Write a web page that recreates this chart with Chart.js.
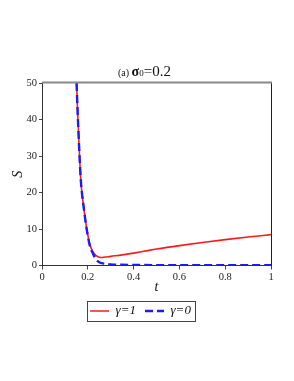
<!DOCTYPE html>
<html>
<head>
<meta charset="utf-8">
<script src="https://cdn.jsdelivr.net/npm/chart.js@4"></script>
<style>
html,body{margin:0;padding:0;background:#fff;}
#wrap{width:294px;height:381px;}
</style>
</head>
<body>
<div id="wrap"><canvas id="c" width="294" height="381"></canvas></div>
<script>
// Data
const tRed = [0.151,0.155,0.16,0.165,0.17,0.175,0.18,0.185,0.19,0.195,0.2,0.207,0.215,0.225,0.235,0.245,0.255,0.27,0.3,0.35,0.4,0.45,0.5,0.6,0.7,0.8,0.9,1.0];
const sRed = [50,43,35.5,28.5,23,19.5,17,14.5,12.2,10.2,8.4,6.3,4.7,3.5,2.8,2.4,2.2,2.25,2.5,2.9,3.4,3.95,4.5,5.45,6.3,7.1,7.8,8.45];
const tBlue = [0.151,0.155,0.16,0.165,0.17,0.175,0.18,0.185,0.19,0.195,0.2,0.207,0.215,0.223,0.23,0.24,0.25,0.26,0.28,0.3,0.35,0.4,0.5,0.6,0.8,1.0];
const sBlue = [50,43,35.5,28.5,23,19.5,17,14.5,12.1,10,8.1,5.9,4.3,3.2,2.3,1.4,0.9,0.65,0.45,0.3,0.2,0.15,0.1,0.08,0.06,0.05];
const xTicks = [0,0.2,0.4,0.6,0.8,1];
const yTicks = [0,10,20,30,40,50];
const seriesLabels = ['γ=1','γ=0'];

const pts = (xs, ys) => xs.map((x,i)=>({x:x,y:ys[i]}));

const serif = "'Liberation Serif','Times New Roman',serif";

const framePlugin = {
  id:'frame',
  afterDatasetsDraw(chart){
    const a = chart.chartArea, ctx = chart.ctx;
    ctx.save();
    ctx.lineWidth = 1;
    ctx.strokeStyle = '#222';
    ctx.beginPath();
    ctx.moveTo(a.right+0.5, a.top); ctx.lineTo(a.right+0.5, a.bottom);
    ctx.stroke();
    ctx.strokeStyle = '#888';
    ctx.lineWidth = 2;
    ctx.beginPath();
    ctx.moveTo(a.left, a.top-0.5); ctx.lineTo(a.right+1, a.top-0.5);
    ctx.stroke();
    ctx.restore();
  },
  afterDraw(chart){
    const ctx = chart.ctx, a = chart.chartArea;
    // title with mixed sizes
    ctx.save();
    ctx.fillStyle = '#111';
    ctx.textBaseline = 'alphabetic';
    let x = a.left + 76, y = a.top - 7;
    const parts = [['(a) ', '10px '+serif, 0],['σ', 'bold 14px '+serif, 0],['0', '9px '+serif, 0],['=0.2', '15px '+serif, 0]];
    for (const p of parts){ ctx.font = p[1]; ctx.fillText(p[0], x, y + p[2]); x += ctx.measureText(p[0]).width; }
    ctx.restore();
    // legend border
    const lg = chart.legend;
    if (lg && lg.legendHitBoxes && lg.legendHitBoxes.length){
      const hb = lg.legendHitBoxes;
      let l = Infinity, r = -Infinity, t = Infinity, b = -Infinity;
      hb.forEach(h=>{ l=Math.min(l,h.left); r=Math.max(r,h.left+h.width); t=Math.min(t,h.top); b=Math.max(b,h.top+h.height);});
      ctx.save();
      ctx.strokeStyle = '#444'; ctx.lineWidth = 1;
      ctx.strokeRect(Math.round(l-3)+0.5, Math.round(t-4)+0.5, Math.round(r-l+7), Math.round(b-t+7));
      ctx.restore();
    }
  }
};

new Chart(document.getElementById('c'), {
  type:'line',
  data:{
    datasets:[
      {label:seriesLabels[0], data:pts(tRed,sRed), borderColor:'#ff1a1a', borderWidth:1.6, pointRadius:0, cubicInterpolationMode:'monotone', fill:false, order:1},
      {label:seriesLabels[1], data:pts(tBlue,sBlue), borderColor:'#1a1aff', borderWidth:2.4, borderDash:[8,4], pointRadius:0, cubicInterpolationMode:'monotone', fill:false, order:0}
    ]
  },
  options:{
    responsive:false, animation:false,
    layout:{padding:{left:10,right:23,top:83,bottom:53.5}},
    plugins:{
      title:{display:false}, tooltip:{enabled:false},
      legend:{
        display:true, position:'bottom', align:'center',
        labels:{
          sort:(a,b)=>a.datasetIndex-b.datasetIndex,
          usePointStyle:true, pointStyle:'line', pointStyleWidth:19, boxHeight:13, padding:9,
          color:'#111', font:{family:serif, size:13, style:'italic'},
          generateLabels(chart){
            return chart.data.datasets.map((d,i)=>({text:d.label, strokeStyle:d.borderColor, fillStyle:d.borderColor, lineWidth:d.borderWidth, lineDash:d.borderDash||[], pointStyle:'line', datasetIndex:i, hidden:false, fontColor:'#111'}));
          }
        }
      }
    },
    scales:{
      x:{
        type:'linear', min:0, max:1,
        afterBuildTicks(s){ s.ticks = xTicks.map(v=>({value:v})); },
        afterFit(s){ s.height = 30; },
        ticks:{color:'#222', font:{family:serif,size:10.5}, padding:1, maxRotation:0, callback:v=>String(v)},
        grid:{display:true, drawOnChartArea:false, drawTicks:true, tickLength:4, color:'#444'},
        border:{display:true, color:'#333', width:1},
        title:{display:true, text:'t', color:'#111', font:{family:serif,size:14,style:'italic'}, padding:{top:0,bottom:0}}
      },
      y:{
        type:'linear', min:0, max:50,
        afterBuildTicks(s){ s.ticks = yTicks.map(v=>({value:v})); },
        afterFit(s){ s.width = 32; },
        ticks:{color:'#222', font:{family:serif,size:10.5}, padding:2},
        grid:{display:true, drawOnChartArea:false, drawTicks:true, tickLength:3, color:'#444'},
        border:{display:true, color:'#333', width:1},
        title:{display:true, text:'S', color:'#111', font:{family:serif,size:14,style:'italic'}, padding:{top:0,bottom:0}}
      }
    }
  },
  plugins:[framePlugin]
});
</script>
</body>
</html>
